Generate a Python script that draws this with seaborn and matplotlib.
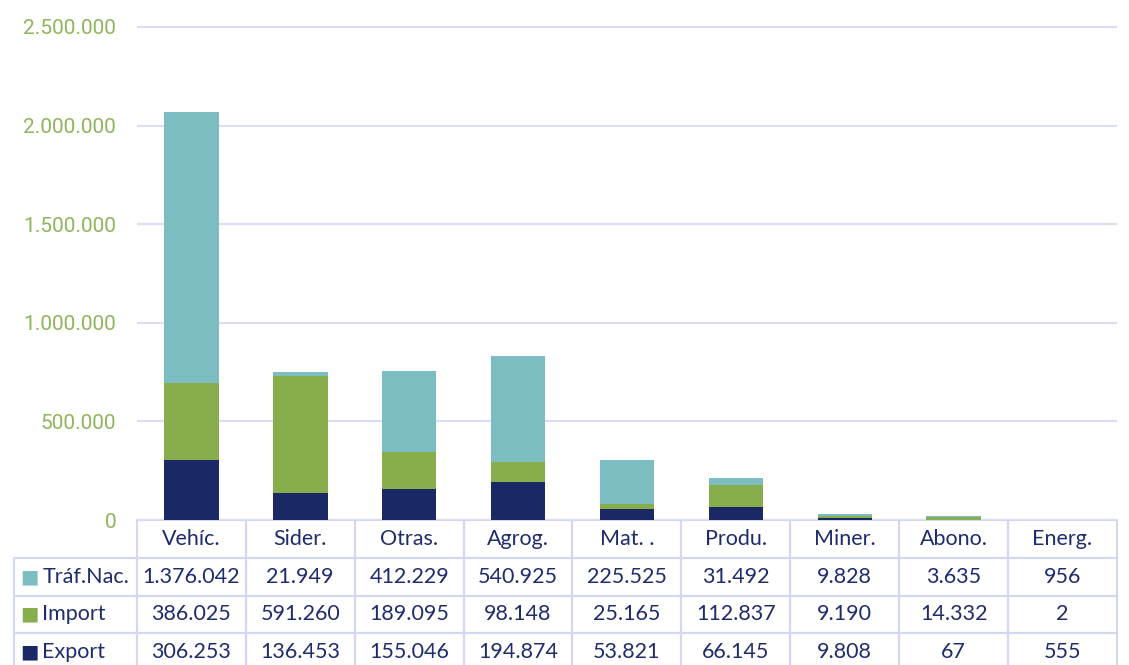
import matplotlib
matplotlib.use("Agg")
import numpy as np
import pandas as pd
import seaborn as sns
import matplotlib.pyplot as plt
from matplotlib.ticker import FuncFormatter

# data
categorias = ["Vehíc.", "Sider.", "Otras.", "Agrog.", "Mat. .", "Produ.", "Miner.", "Abono.", "Energ."]
traf_nac = [1376042, 21949, 412229, 540925, 225525, 31492, 9828, 3635, 956]
importacion = [386025, 591260, 189095, 98148, 25165, 112837, 9190, 14332, 2]
exportacion = [306253, 136453, 155046, 194874, 53821, 66145, 9808, 67, 555]
series = ["Tráf.Nac.", "Import", "Export"]

c_traf = "#7bbdc1"
c_imp = "#88ad4d"
c_exp = "#1b2866"
c_text = "#1f2c6b"
c_grid = "#d9ddf6"

def miles(v):
    return f"{int(v):,}".replace(",", ".")

df = pd.DataFrame({"cat": categorias, "traf": traf_nac, "imp": importacion, "exp": exportacion})
df["tot"] = df["traf"] + df["imp"] + df["exp"]
df["imp_exp"] = df["imp"] + df["exp"]

sns.set_style("white")
plt.rcParams["font.family"] = ["Lato", "DejaVu Sans"]

W, H = 1129, 665
fig = plt.figure(figsize=(W / 100, H / 100), dpi=100)
ymax = 2.52e6
top_px = 520 - ymax / 2.5e6 * 493
ax_h_px = 520 - top_px
ax = fig.add_axes([137 / W, 1 - 520 / H, 980 / W, ax_h_px / H])

# stacked bars by layering cumulative totals
for col, color in [("tot", c_traf), ("imp_exp", c_imp), ("exp", c_exp)]:
    sns.barplot(data=df, x="cat", y=col, color=color, saturation=1, width=0.5,
                linewidth=0, ax=ax, zorder=3)

ax.set_xlim(-0.5, len(categorias) - 0.5)
ax.set_ylim(0, ymax)
ax.set_yticks(np.arange(0, 2.5e6 + 1, 5e5))
ax.yaxis.set_major_formatter(FuncFormatter(lambda v, p: miles(v)))
ax.tick_params(axis="y", length=0, pad=15, labelcolor="#8db55a", labelsize=15)
for t in ax.get_yticklabels():
    t.set_family(["Roboto", "DejaVu Sans"])
ax.set_xticks([])
ax.set_xlabel("")
ax.set_ylabel("")
ax.grid(axis="y", color=c_grid, lw=1.5, zorder=0)
for s in ax.spines.values():
    s.set_visible(False)

# data table under the bars
filas = [[""] + categorias]
for nombre, vals in zip(series, [traf_nac, importacion, exportacion]):
    filas.append([nombre] + [miles(v) for v in vals])

tab_h = 151 / ax_h_px
left_ax = (14 - 137) / 980
widths = [123 / 980] + [109 / 980] * len(categorias)
tabla = ax.table(cellText=filas, colWidths=widths, cellLoc="center",
                 bbox=[left_ax, -tab_h, 1 - left_ax, tab_h])
tabla.auto_set_font_size(False)
for (r, c), cell in tabla.get_celld().items():
    cell.set_edgecolor("#d3d8f2")
    cell.set_linewidth(1.5)
    cell.set_facecolor("none")
    cell.get_text().set_color(c_text)
    cell.get_text().set_fontsize(15.5)
    if r == 0 and c == 0:
        cell.visible_edges = ""
    if c == 0 and r > 0:
        cell._loc = "left"
        cell.PAD = 0.23
        cell.get_text().set_horizontalalignment("left")

# legend squares in the row labels
row_h = tab_h / 4
for i, col in enumerate([c_traf, c_imp, c_exp]):
    yc = -row_h * (i + 1.5)
    ax.text((29 - 137) / 980, yc, "■", transform=ax.transAxes, color=col,
            fontsize=14, family="DejaVu Sans", ha="center", va="center", clip_on=False)

fig.savefig("out.png", dpi=100)
